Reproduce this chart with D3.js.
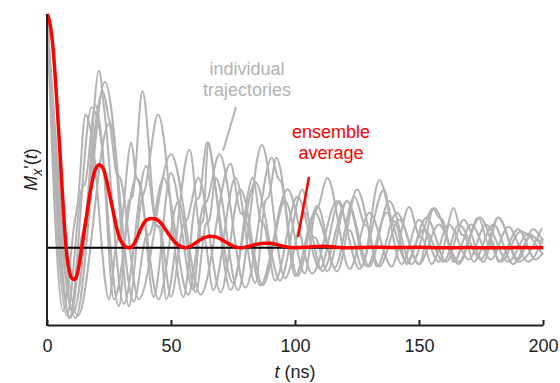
<!DOCTYPE html>
<html>
<head>
<meta charset="utf-8">
<script src="https://cdn.jsdelivr.net/npm/d3@7"></script>
<style>
  body { margin: 0; background: #fff; }
  svg text { font-family: "Liberation Sans", Arial, sans-serif; }
</style>
</head>
<body>
<div id="container"></div>
<script>
var width = 560;
var height = 383;

// ensemble average, [t (ns), M]
var avgT = [0,1,2,3,4,5,6,7,8,9,10,11,12,13,14,15,16,17,18,19,20,21,22,23,24,25,26,27,28,29,30,31,32,33,34,35,36,37,38,39,40,42,44,46,48,50,52,54,56,58,60,62,64,66,68,70,72,74,76,78,80,82,84,86,88,90,92,94,96,98,100,104,108,112,116,120,130,140,150,160,170,180,190,200];
var avgM = [1.0,0.97,0.9,0.78,0.62,0.45,0.27,0.1,-0.03,-0.1,-0.13,-0.135,-0.12,-0.07,0.0,0.07,0.14,0.21,0.27,0.32,0.345,0.355,0.35,0.33,0.29,0.24,0.19,0.14,0.09,0.05,0.025,0.01,0.003,0.0,0.003,0.015,0.035,0.06,0.085,0.105,0.118,0.125,0.122,0.105,0.075,0.045,0.02,0.005,0.0,0.008,0.022,0.036,0.046,0.05,0.047,0.038,0.025,0.013,0.004,0.0,0.003,0.008,0.014,0.018,0.02,0.02,0.016,0.01,0.005,0.002,0.0,0.002,0.006,0.007,0.004,0.0,0.003,0.001,0.002,0.0,0.001,0.0,0.001,0.0];

var traj1 = [[0,1],[6.5,-0.27],[11,0.1],[12.5,0.2],[15.5,0.57],[18,0.48],[25,-0.22],[28,0.02],[29.5,0.06],[34,0.45],[36,0.3],[37.5,0.28],[43,-0.21],[50,0.32],[59,-0.18],[62,0.1],[63,0.12],[65,0.45],[68,0.25],[75,-0.15],[83,0.3],[86,0.12],[87.5,0.1],[92,-0.14],[101,0.22],[110,-0.09],[118,0.2],[121,0.08],[122.5,0.07],[127,-0.08],[134,0.29],[143,-0.07],[150,0.12],[158,-0.06],[164,0.17],[167,0.06],[168.5,0.05],[172,-0.06],[180,0.1],[188,-0.07],[195,0.05],[200,0.02]];
var traj2 = [[0,1],[8,-0.29],[14,0.25],[15.5,0.28],[19.5,0.61],[29,-0.25],[33,0.2],[34.5,0.22],[38.5,0.67],[44,0.1],[45.5,0.08],[48,-0.22],[57.5,0.42],[62,0.05],[63.5,0.04],[67,-0.18],[76,0.3],[84,-0.15],[88,0.2],[89.5,0.22],[92.5,0.385],[101,-0.12],[109,0.18],[116,-0.085],[124,0.22],[128,0.1],[129.5,0.09],[133,-0.08],[141,0.15],[150,-0.07],[156,0.17],[166,-0.07],[174,0.13],[178,0.02],[179.5,0.03],[182,-0.06],[190,0.08],[197,-0.05],[200,-0.02]];
var traj3 = [[0,1],[9.5,-0.3],[14,0.05],[15.5,0.12],[21,0.757],[23,0.6],[31,-0.24],[40,0.35],[44,0.1],[45.5,0.09],[50,-0.21],[55,0.1],[56.5,0.12],[61,0.3],[70,-0.19],[78,0.25],[87,-0.16],[96,0.2],[104,-0.11],[108,0.15],[109.5,0.18],[113,0.3],[122,-0.09],[130,0.15],[139,-0.08],[146,0.175],[150,0.05],[151.5,0.04],[155,-0.07],[162,0.1],[170,-0.05],[177,0.1],[186,-0.06],[194,0.06],[200,0.0]];
var traj4 = [[0,1],[10.5,-0.28],[22.5,0.67],[25,0.55],[26.5,0.5],[33,-0.25],[38,0.2],[39.5,0.25],[44.8,0.57],[55,-0.21],[60,0.2],[61.5,0.22],[64.5,0.45],[74,-0.18],[84,0.28],[94,-0.14],[103,0.25],[107,0.05],[108.5,0.04],[113,-0.1],[121,0.2],[130,-0.08],[138,0.2],[147,-0.07],[155.6,0.167],[158,0.13],[159.5,0.12],[164,-0.06],[171,0.1],[179,-0.05],[186,0.09],[194,-0.06],[200,0.04]];
var traj5 = [[0,1],[11.5,-0.3],[23.4,0.71],[35,-0.23],[40,0.05],[41.5,0.06],[47,0.3],[57,-0.2],[63,0.18],[64.5,0.2],[69.5,0.4],[80,-0.17],[90.7,0.385],[93,0.3],[94.5,0.28],[100,-0.12],[108,0.15],[117,-0.1],[125,0.25],[134,-0.08],[142,0.12],[150,-0.07],[158,0.1],[166,-0.06],[174.6,0.13],[183,-0.06],[191,0.07],[200,-0.03]];
var traj6 = [[0,1],[12.5,-0.29],[25,0.53],[28,0.32],[29.5,0.3],[37,-0.22],[50,0.4],[62,-0.2],[74,0.36],[78,0.15],[79.5,0.14],[86,-0.16],[97,0.25],[107,-0.11],[117,0.2],[126,-0.09],[136,0.25],[139,0.12],[140.5,0.11],[145,-0.07],[153,0.13],[161,-0.06],[168,0.12],[176,-0.06],[182,0.13],[190,-0.05],[196,0.08],[200,0.03]];
var traj7 = [[0,1],[9,-0.3],[18,0.6],[22,0.45],[27,-0.22],[36,0.3],[45,-0.22],[53,0.2],[60,-0.19],[64,0.1],[65.5,0.12],[68,0.3],[77,-0.18],[86.6,0.44],[96,-0.13],[104,0.15],[111,-0.1],[121,0.2],[129,-0.08],[137,0.15],[145,-0.06],[152,0.08],[160,-0.06],[166,0.1],[175,-0.05],[182,0.13],[190,-0.06],[199.6,0.085]];
var trajectories = [traj1, traj2, traj3, traj4, traj5, traj6, traj7];

var xTicks = [0, 50, 100, 150, 200];

var grey = "#b3b3b3";

var svg = d3
  .select("div#container")
  .append("svg")
  .attr("width", width)
  .attr("height", height);

var x = d3.scaleLinear().domain([0, 200]).range([47, 543]);
var y = d3.scaleLinear().domain([-0.33, 1]).range([325, 14]);

var line = d3.line()
  .x((d) => x(d[0]))
  .y((d) => y(d[1]))
  .curve(d3.curveMonotoneX);

// grey trajectories
svg.append("g")
  .selectAll("path")
  .data(trajectories)
  .enter()
  .append("path")
  .attr("d", line)
  .attr("fill", "none")
  .attr("stroke", grey)
  .attr("stroke-width", 2)
  .attr("stroke-linejoin", "round");

// zero line
svg.append("line")
  .attr("x1", x(0)).attr("x2", x(200))
  .attr("y1", y(0)).attr("y2", y(0))
  .attr("stroke", "#000")
  .attr("stroke-width", 2);

// average
var avg = avgT.map((t, i) => [t, avgM[i]]);
svg.append("path")
  .datum(avg)
  .attr("d", line)
  .attr("fill", "none")
  .attr("stroke", "#ff0000")
  .attr("stroke-width", 3.5)
  .attr("stroke-linejoin", "round");

// axes
var xAxis = svg.append("g")
  .attr("transform", `translate(0,${y(-0.33)})`)
  .call(d3.axisBottom(x).tickValues(xTicks).tickSizeInner(-5).tickSizeOuter(0).tickPadding(14));
xAxis.select(".domain").attr("stroke", "#222").attr("stroke-width", 2);
xAxis.selectAll(".tick line").attr("stroke", "#222").attr("stroke-width", 2);
xAxis.selectAll(".tick text")
  .attr("font-size", 18)
  .attr("fill", "#222")
  .style("font-family", "Liberation Sans, Arial, sans-serif");

svg.append("line")
  .attr("x1", x(0)).attr("x2", x(0))
  .attr("y1", y(1)).attr("y2", y(-0.33) + 1)
  .attr("stroke", "#222")
  .attr("stroke-width", 2);

// axis labels
var xl = svg.append("text")
  .attr("x", x(100))
  .attr("y", 378)
  .attr("text-anchor", "middle")
  .attr("font-size", 18)
  .attr("fill", "#222");
xl.append("tspan").attr("font-style", "italic").text("t");
xl.append("tspan").text(" (ns)");

var yl = svg.append("text")
  .attr("transform", `translate(37,${(y(1) + y(-0.33)) / 2}) rotate(-90)`)
  .attr("text-anchor", "middle")
  .attr("font-size", 18)
  .attr("fill", "#222");
yl.append("tspan").attr("font-style", "italic").text("M");
yl.append("tspan").attr("font-style", "italic").attr("font-size", 14).attr("dy", 5).text("x");
yl.append("tspan").attr("dy", -5).text("'(");
yl.append("tspan").attr("font-style", "italic").text("t");
yl.append("tspan").text(")");

// annotations
svg.append("text")
  .attr("x", 247).attr("y", 75)
  .attr("text-anchor", "middle")
  .attr("font-size", 18)
  .attr("fill", grey)
  .text("individual");
svg.append("text")
  .attr("x", 247).attr("y", 96)
  .attr("text-anchor", "middle")
  .attr("font-size", 18)
  .attr("fill", grey)
  .text("trajectories");
svg.append("line")
  .attr("x1", 236).attr("y1", 107)
  .attr("x2", 223).attr("y2", 151)
  .attr("stroke", grey)
  .attr("stroke-width", 2);

svg.append("text")
  .attr("x", 331).attr("y", 138)
  .attr("text-anchor", "middle")
  .attr("font-size", 18)
  .attr("fill", "#ff0000")
  .text("ensemble");
svg.append("text")
  .attr("x", 331).attr("y", 159)
  .attr("text-anchor", "middle")
  .attr("font-size", 18)
  .attr("fill", "#ff0000")
  .text("average");
svg.append("line")
  .attr("x1", 309).attr("y1", 177)
  .attr("x2", 298).attr("y2", 237)
  .attr("stroke", "#ff0000")
  .attr("stroke-width", 2.5);
</script>
</body>
</html>
